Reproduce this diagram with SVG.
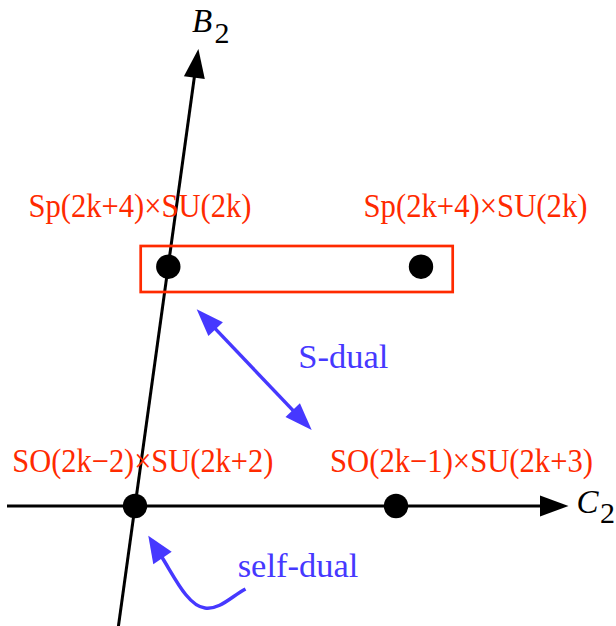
<svg xmlns="http://www.w3.org/2000/svg" width="616" height="626" viewBox="0 0 616 626">
<style>
.ax{stroke:#000;stroke-width:3;fill:none}
.head{fill:#000}
.dot{fill:#000}
.bl{stroke:#4638ff;stroke-width:3.5;fill:none}
.bh{fill:#4638ff}
</style>
<rect width="616" height="626" fill="#fff"/>
<g id="axes">
<line class="ax" x1="117.9" y1="630" x2="194.5" y2="76"/>
<polygon class="head" points="198.4,49 204.8,79.1 183.9,76.3"/>
<line class="ax" x1="7" y1="506" x2="542" y2="506"/>
<polygon class="head" points="568.5,506 540,495.5 540,516.5"/>
<g font-family="Liberation Serif, Times New Roman, serif" fill="#000">
<text x="192" y="32.3" font-size="33" font-style="italic">B</text>
<text x="214.5" y="43.3" font-size="30">2</text>
<text x="576.5" y="512.5" font-size="33" font-style="italic">C</text>
<text x="600" y="523" font-size="30">2</text>
</g>
</g>
<g id="box">
<rect x="140.7" y="246" width="312" height="46" fill="none" stroke="#ff2a00" stroke-width="2.7"/>
</g>
<g font-family="Liberation Serif, Times New Roman, serif" font-size="33" fill="#ff2a00">
<g id="node-sp-left">
<circle class="dot" cx="168.3" cy="266.7" r="12.2"/>
<text x="28.5" y="216.7" textLength="223" lengthAdjust="spacingAndGlyphs">Sp(2k+4)×SU(2k)</text>
</g>
<g id="node-sp-right">
<circle class="dot" cx="421" cy="266.7" r="12.2"/>
<text x="363.5" y="216.7" textLength="224" lengthAdjust="spacingAndGlyphs">Sp(2k+4)×SU(2k)</text>
</g>
<g id="node-so-left">
<circle class="dot" cx="135" cy="506" r="12.2"/>
<text x="12.3" y="472" textLength="261" lengthAdjust="spacingAndGlyphs">SO(2k−2)×SU(2k+2)</text>
</g>
<g id="node-so-right">
<circle class="dot" cx="396" cy="506" r="12.2"/>
<text x="330" y="472" textLength="263" lengthAdjust="spacingAndGlyphs">SO(2k−1)×SU(2k+3)</text>
</g>
</g>
<g id="connectors">
<line class="bl" x1="214" y1="327.4" x2="294.4" y2="411.9"/>
<polygon class="bh" points="196.7,309.3 222.9,322.3 208.4,336.1"/>
<polygon class="bh" points="311.7,430 299.9,403.2 285.5,417"/>
<path class="bl" d="M161.5,556.5 C175,578 188,606 205,608 C220,610 232,596 245.5,589"/>
<polygon class="bh" points="148.3,535.7 153.3,564.3 171.7,551.7"/>
<g font-family="Liberation Serif, Times New Roman, serif" font-size="34.5" fill="#4638ff">
<text x="298.3" y="368.3">S-dual</text>
<text x="237.7" y="576.7">self-dual</text>
</g>
</g>
</svg>
